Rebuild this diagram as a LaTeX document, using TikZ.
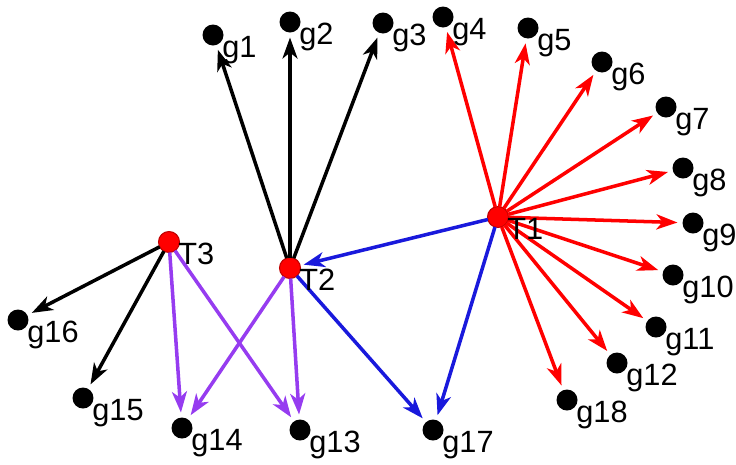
\documentclass[tikz,border=0pt]{standalone}
\usepackage{fontspec}
\setmainfont{Liberation Sans}
\usetikzlibrary{arrows.meta}
\definecolor{linkblue}{RGB}{25,25,220}
\definecolor{linkpurple}{RGB}{150,60,240}
\tikzset{gene/.style={circle,fill=black,minimum size=0.42cm,inner sep=0pt,outer sep=0.1cm},
  tf/.style={gene,fill=red,draw=red!75!black,line width=0.6pt,outer sep=0pt},
  glabel/.style={anchor=base west,inner sep=0pt,font=\fontsize{17.5}{20}\selectfont},
  link/.style={-{Stealth[length=0.42cm,width=0.3cm,inset=0.12cm]},line width=2pt}}
\begin{document}
\begin{tikzpicture}[x=0.02cm,y=-0.02cm]
    \useasboundingbox (0,0) rectangle (736,464);
    \foreach \n/\x/\y in {1/213/35,2/290/22,3/383/23,4/443/17,5/528/28,6/602/62,
      7/666/107,8/683/168,9/693/223,10/673/275,11/656/327,12/617/363,
      13/300/430,14/182/428,15/83/398,16/18/320,17/433/430,18/567/400}
      \node[gene] (g\n) at (\x,\y) {};
    \node[tf] (T1) at (498,217) {};
    \node[tf] (T2) at (290,268) {};
    \node[tf] (T3) at (169,242) {};
 \foreach \g in {4,5,6,7,8,9,10,11,12,18}
    \draw[link,red] (T1) -- (g\g);
\draw[link,linkblue,shorten >=2pt] (T1) -- (T2);
    \draw[link,linkblue] (T1) -- (g17);
    \draw[link,linkblue] (T2) -- (g17);
 \foreach \g in {1,2,3}
    \draw[link] (T2) -- (g\g);
    \draw[link] (T3) -- (g16);
    \draw[link] (T3) -- (g15);
 \foreach \t/\g in {T2/g14,T2/g13,T3/g14,T3/g13}
    \draw[link,linkpurple] (\t) -- (\g);
 \foreach \v in {g1,g2,g3,g4,g5,g6,g7,g8,g9,g10,g11,g12,g13,g14,g15,g16,g17,g18,T1,T2,T3}
    \node[glabel] (l\v) at ([shift={(9,22)}]\v.center) {\v};
    % \draw[link] (T3) -- (T2);
\end{tikzpicture}
\end{document}
